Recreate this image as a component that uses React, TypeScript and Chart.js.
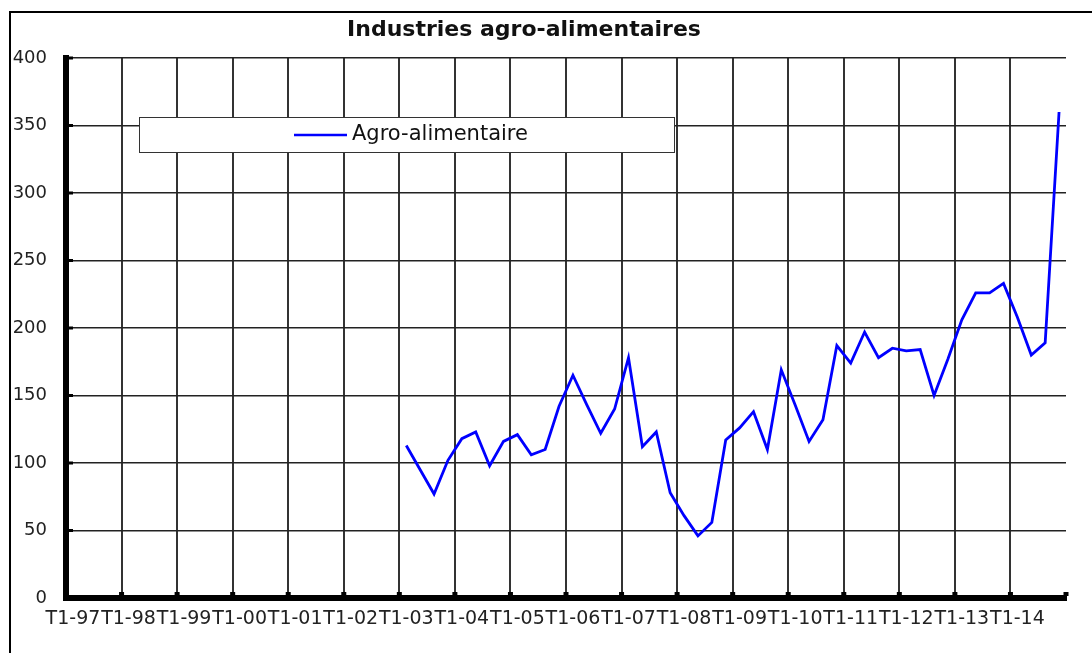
import React, { useEffect, useRef } from 'react';
import { Chart, registerables } from 'chart.js';

Chart.register(...registerables);

const chartTitle = 'Industries agro-alimentaires';
const seriesLabel = 'Agro-alimentaire';

const years = ['97', '98', '99', '00', '01', '02', '03', '04', '05', '06', '07', '08', '09', '10', '11', '12', '13', '14'];
const quarters = ['T1', 'T2', 'T3', 'T4'];
const categories: string[] = years.flatMap((y) => quarters.map((q) => `${q}-${y}`));

// Quarterly values, T1-97 .. T4-14 (no data before T1-03)
const agroValues: (number | null)[] = [
  null, null, null, null, // 97
  null, null, null, null, // 98
  null, null, null, null, // 99
  null, null, null, null, // 00
  null, null, null, null, // 01
  null, null, null, null, // 02
  113, 95, 77, 102, // 03
  118, 123, 98, 116, // 04
  121, 106, 110, 142, // 05
  165, 143, 122, 140, // 06
  178, 112, 123, 78, // 07
  61, 46, 56, 117, // 08
  126, 138, 110, 169, // 09
  143, 116, 132, 187, // 10
  174, 197, 178, 185, // 11
  183, 184, 150, 177, // 12
  206, 226, 226, 233, // 13
  208, 180, 189, 360, // 14
];

const yMin = 0;
const yMax = 400;
const yStep = 50;

const FONT = "'DejaVu Sans', 'Liberation Sans', Arial, sans-serif";

const decorPlugin = {
  id: 'decor',
  beforeDraw(chart: any) {
    const { ctx, width, height } = chart;
    ctx.save();
    ctx.fillStyle = '#ffffff';
    ctx.fillRect(0, 0, width, height);
    ctx.strokeStyle = '#000000';
    ctx.lineWidth = 2;
    ctx.beginPath();
    ctx.moveTo(10, height + 2);
    ctx.lineTo(10, 12);
    ctx.lineTo(width + 2, 12);
    ctx.stroke();
    ctx.restore();
  },
  afterDraw(chart: any) {
    const { ctx, chartArea } = chart;
    const xs = chart.scales.x;
    const ys = chart.scales.y;
    ctx.save();
    // small tick marks
    ctx.fillStyle = '#000000';
    ys.ticks.forEach((t: any) => {
      const y = ys.getPixelForValue(t.value);
      ctx.fillRect(chartArea.left + 2, y - 1.5, 5, 3);
    });
    const step = xs.getPixelForValue(1) - xs.getPixelForValue(0);
    for (let i = 0; i <= categories.length; i += 4) {
      const x = xs.getPixelForValue(i) - step / 2;
      ctx.fillRect(x - 2.5, chartArea.bottom - 6, 5, 4);
    }
    // legend box
    ctx.fillStyle = '#ffffff';
    ctx.fillRect(139, 117, 535, 35);
    ctx.strokeStyle = '#333333';
    ctx.lineWidth = 1;
    ctx.strokeRect(139.5, 117.5, 535, 35);
    ctx.strokeStyle = '#0000ff';
    ctx.lineWidth = 2.5;
    ctx.beginPath();
    ctx.moveTo(294, 135);
    ctx.lineTo(347, 135);
    ctx.stroke();
    ctx.fillStyle = '#111111';
    ctx.font = `21px ${FONT}`;
    ctx.textAlign = 'left';
    ctx.textBaseline = 'middle';
    ctx.fillText(seriesLabel, 352, 135);
    // title
    ctx.font = `bold 22px ${FONT}`;
    ctx.textAlign = 'center';
    ctx.fillText(chartTitle, 524, 30);
    ctx.restore();
  },
};

export default function App() {
  const canvasRef = useRef<HTMLCanvasElement | null>(null);

  useEffect(() => {
    const canvas = canvasRef.current;
    if (!canvas) return;
    const chart = new Chart(canvas, {
      type: 'line',
      data: {
        labels: categories,
        datasets: [
          {
            label: seriesLabel,
            data: agroValues,
            borderColor: '#0000ff',
            backgroundColor: '#0000ff',
            borderWidth: 2.8,
            pointRadius: 0,
            tension: 0,
            fill: false,
            spanGaps: false,
          },
        ],
      },
      options: {
        responsive: false,
        animation: false,
        events: [],
        layout: { padding: { top: 58, right: 26, bottom: 0, left: 0 } },
        plugins: {
          legend: { display: false },
          title: { display: false },
          tooltip: { enabled: false },
        },
        scales: {
          x: {
            type: 'category',
            offset: true,
            grid: {
              offset: true,
              drawTicks: false,
              lineWidth: 2,
              color: (c: any) => (c.index % 4 === 0 ? '#333333' : 'rgba(0,0,0,0)'),
            },
            border: { display: true, color: '#000000', width: 6 },
            ticks: {
              autoSkip: false,
              maxRotation: 0,
              minRotation: 0,
              padding: 10,
              color: '#222222',
              font: { family: FONT, size: 19 },
              callback: (_v: any, i: number) => (i % 4 === 0 ? categories[i] : ''),
            },
            afterFit: (s: any) => {
              s.height = 55;
            },
          },
          y: {
            min: yMin,
            max: yMax,
            grid: { drawTicks: false, lineWidth: 1.5, color: '#222222' },
            border: { display: true, color: '#000000', width: 6 },
            ticks: {
              stepSize: yStep,
              padding: 19,
              color: '#222222',
              font: { family: FONT, size: 18 },
            },
            afterFit: (s: any) => {
              s.width = 66;
            },
          },
        },
      },
      plugins: [decorPlugin],
    });
    return () => chart.destroy();
  }, []);

  return (
    <div style={{ position: 'absolute', left: 0, top: 0, width: 1092, height: 653, background: '#fff' }}>
      <canvas ref={canvasRef} width={1092} height={653} style={{ display: 'block' }} />
    </div>
  );
}
